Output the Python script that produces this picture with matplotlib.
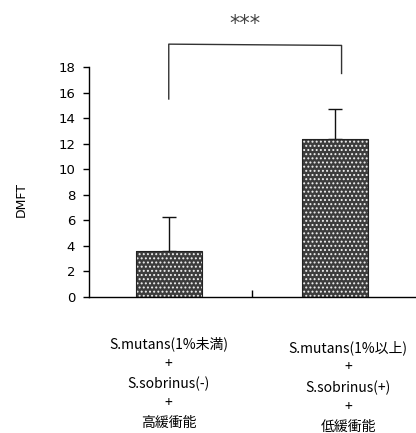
import matplotlib
matplotlib.use("Agg")
import matplotlib.pyplot as plt

plt.rcParams['font.family'] = ['Noto Sans CJK JP', 'DejaVu Sans']
plt.rcParams['hatch.linewidth'] = 0.9

categories = ["S.mutans(1%未満)\n+\nS.sobrinus(-)\n+\n高緩衝能",
              "S.mutans(1%以上)\n+\nS.sobrinus(+)\n+\n低緩衝能"]
values = [3.6, 12.4]
errors = [2.65, 2.3]
yticks = [0, 2, 4, 6, 8, 10, 12, 14, 16, 18]

fig = plt.figure(figsize=(4.16, 4.33), dpi=100)
ax = fig.add_axes([89/416, 136.3/433, 329/416, 229.6/433])
x = list(range(len(categories)))

ax.bar(x, values, width=0.4, color='#3c3c3c', edgecolor='#f0f0f0', hatch='....', linewidth=0, zorder=2)
ax.bar(x, values, width=0.4, fill=False, edgecolor='#222222', linewidth=0.8, zorder=3)
ax.errorbar(x, values, yerr=[[0] * len(errors), errors],
            fmt='none', ecolor='#111111', elinewidth=1.0, capsize=5, capthick=1.0, zorder=1)

ax.set_xlim(-0.48, 1.5)
ax.set_ylim(0, 18)
ax.set_yticks(yticks)
ax.set_yticklabels([str(t) for t in yticks], fontsize=9.5, family='DejaVu Sans')
ax.tick_params(axis='y', length=4, width=1, direction='out', pad=6)
ax.set_xticks([0.5])
ax.set_xticklabels([''])
ax.tick_params(axis='x', length=5, width=1, direction='in')
for s in ['top', 'right']:
    ax.spines[s].set_visible(False)
ax.spines['left'].set_linewidth(1.0)
ax.spines['bottom'].set_linewidth(1.0)

fig.text(21/416, 1 - 199/433, 'DMFT', rotation=90, ha='center', va='center',
         fontsize=9, family='DejaVu Sans')

# x category labels
for xi, lab, yoff in zip(x, categories, [-3.1, -3.4]):
    ax.text(xi + (0.0 if xi == 0 else 0.08), yoff, lab, ha='center', va='top', fontsize=10,
            linespacing=1.5, clip_on=False)

# significance bracket
ax.plot([0, 0, 1.04, 1.04], [15.5, 19.8, 19.7, 17.5], color='#333333', lw=1.0, clip_on=False)
ax.text(0.46, 21.4, '***', ha='center', va='center', fontsize=15, color='#444444',
        family='DejaVu Sans', clip_on=False)

fig.savefig('out.png', dpi=100)
